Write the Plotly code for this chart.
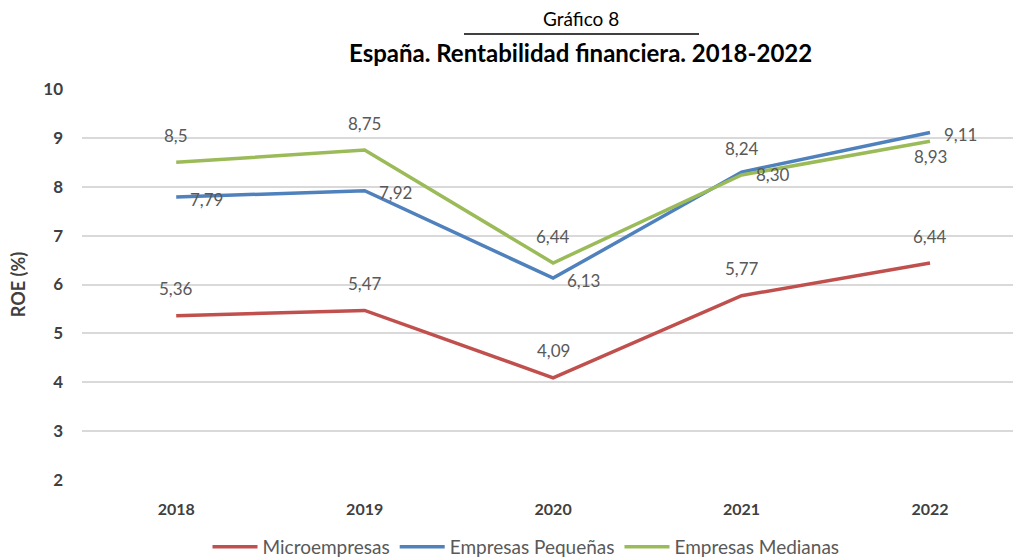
import plotly.graph_objects as go

# ─────────────────────────────────────────────
# Datos
# ─────────────────────────────────────────────
years = ["2018", "2019", "2020", "2021", "2022"]
micro = [5.36, 5.47, 4.09, 5.77, 6.44]
pequenas = [7.79, 7.92, 6.13, 8.30, 9.11]
medianas = [8.5, 8.75, 6.44, 8.24, 8.93]

micro_lbl = ["5,36", "5,47", "4,09", "5,77", "6,44"]
pequenas_lbl = ["7,79", "7,92", "6,13", "8,30", "9,11"]
medianas_lbl = ["8,5", "8,75", "6,44", "8,24", "8,93"]

FONT = "Lato"
LBL_COLOR = "#595959"

series = [
    ("Microempresas", micro, micro_lbl, "#C0504D"),
    ("Empresas Pequeñas", pequenas, pequenas_lbl, "#4F81BD"),
    ("Empresas Medianas", medianas, medianas_lbl, "#9BBB59"),
]

# geometría (px); se quita el margen por defecto del body en la página
W, H = 1013, 559
L, T, B = 82, 89, 480
R = W
X_RIGHT = (R - 176) / 188.5   # índice de categoría en el borde derecho

def px_x(p):
    return (p - L) / (R - L)

def px_y(p):
    return (B - p) / (B - T)

fig = go.Figure()
for name, vals, _, color in series:
    fig.add_trace(go.Scatter(
        x=years, y=vals, name=name, mode="lines",
        line=dict(color=color, width=3.5)
    ))

# etiquetas de datos (como en Excel); x por índice de categoría
def add_labels(vals, labels, pos):
    for i, (v, t) in enumerate(zip(vals, labels)):
        p = pos[i]
        if p == "top":
            kw = dict(xanchor="center", yanchor="middle", yshift=27)
        elif p == "bottom":
            kw = dict(xanchor="center", yanchor="middle", yshift=-15)
        else:  # right
            kw = dict(xanchor="left", yanchor="middle", xshift=12, yshift=-2)
        fig.add_annotation(x=i, y=v, xref="x", yref="y", text=t, showarrow=False,
                           font=dict(family=FONT, size=17, color=LBL_COLOR), **kw)

add_labels(micro, micro_lbl, ["top"] * 5)
add_labels(pequenas, pequenas_lbl, ["right"] * 5)
add_labels(medianas, medianas_lbl, ["top", "top", "top", "top", "bottom"])

# títulos
fig.add_annotation(xref="paper", yref="paper", x=px_x(581), y=px_y(18),
                   xanchor="center", yanchor="middle",
                   text="Gráfico 8", showarrow=False,
                   font=dict(family=FONT, size=19, color="#000000"))
fig.add_annotation(xref="paper", yref="paper", x=px_x(580), y=px_y(52),
                   xanchor="center", yanchor="middle",
                   text="<b>España. Rentabilidad financiera. 2018-2022</b>", showarrow=False,
                   font=dict(family=FONT, size=24, color="#000000"))
fig.add_shape(type="line", xref="paper", yref="paper",
              x0=px_x(464), x1=px_x(699), y0=px_y(34), y1=px_y(34),
              line=dict(color="#000000", width=1.5))

fig.update_layout(
    width=W, height=H,
    margin=dict(l=L, r=W - R, t=T, b=H - B, autoexpand=False),
    plot_bgcolor="white", paper_bgcolor="white",
    font=dict(family=FONT),
    showlegend=True,
    legend=dict(orientation="h", xanchor="center", yanchor="middle",
                x=px_x(526), y=px_y(547),
                font=dict(family=FONT, size=19, color=LBL_COLOR),
                itemwidth=45),
    xaxis=dict(
        type="category", range=[-0.5, X_RIGHT], automargin=False,
        showgrid=False, showline=False, zeroline=False,
        tickfont=dict(family=FONT, size=16, color="#404040", weight="bold"),
        ticklabelstandoff=18,
    ),
    yaxis=dict(
        range=[2, 10], dtick=1, tick0=2, automargin=False,
        showgrid=True, gridcolor="#D9D9D9", gridwidth=1.5,
        zeroline=False, showline=False,
        tickfont=dict(family=FONT, size=17, color="#404040", weight="bold"),
        ticklabelstandoff=18,
        title=dict(text="<b>ROE (%)</b>", standoff=12,
                   font=dict(family=FONT, size=18, color="#404040")),
    ),
)

fig.write_html("out.html", config={"displayModeBar": False},
               post_script="document.body.style.margin='0';document.body.style.overflow='hidden';")
